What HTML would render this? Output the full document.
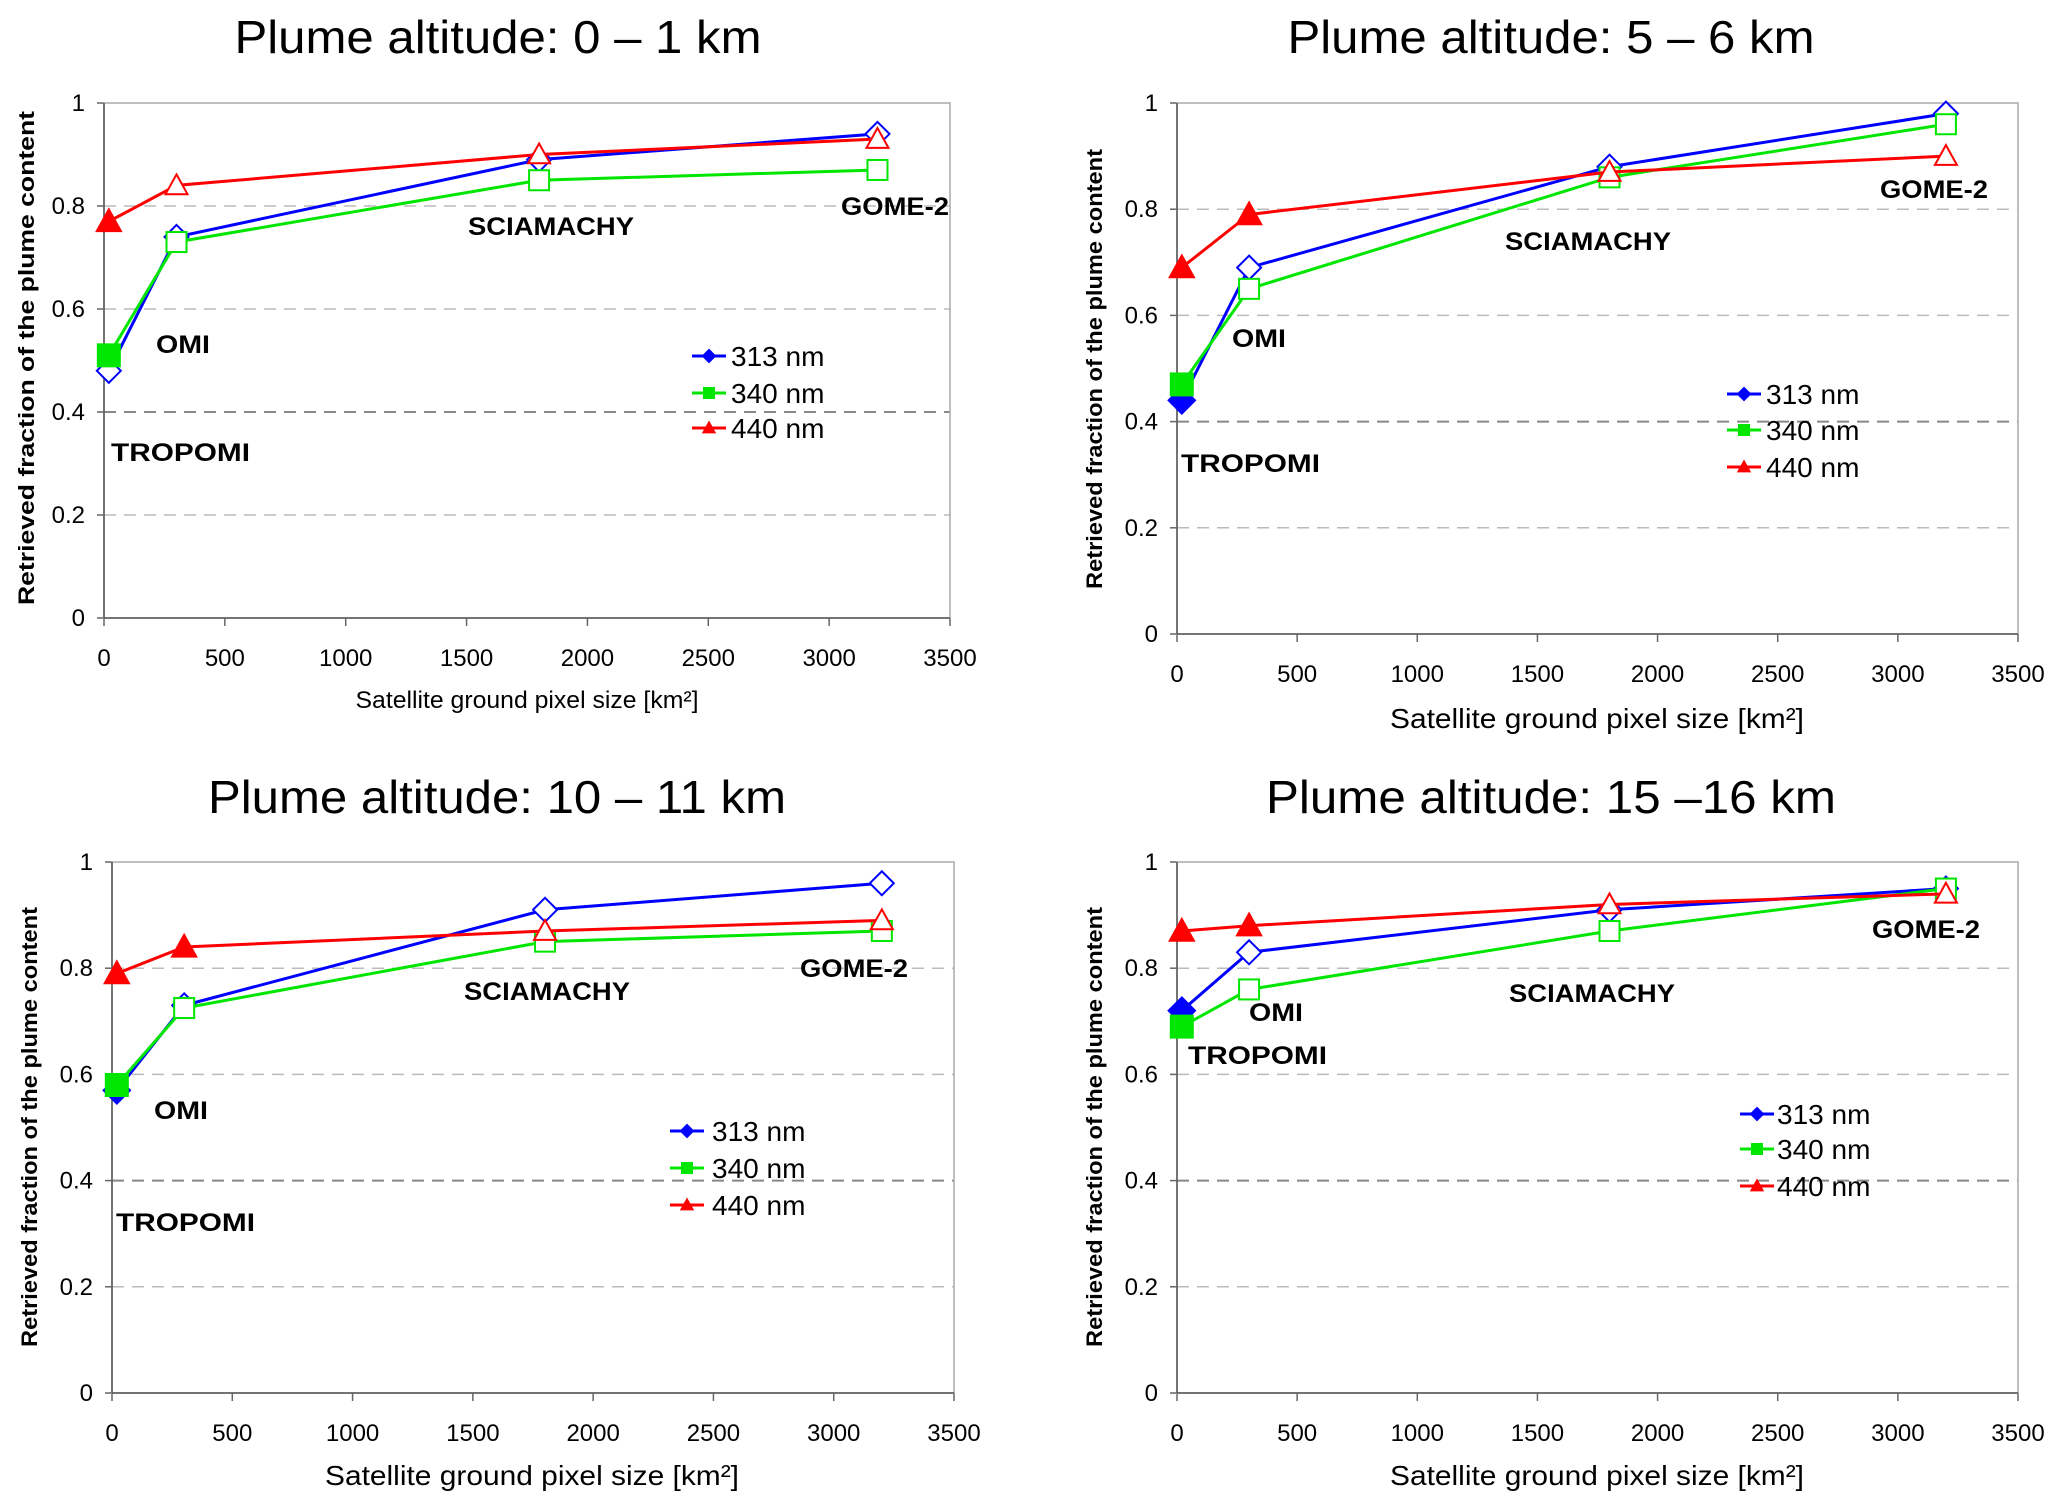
<!DOCTYPE html>
<html><head><meta charset="utf-8"><style>
html,body{margin:0;padding:0;background:#fff;}
svg{display:block;}
text{font-family:"Liberation Sans",Arial,sans-serif;}
</style></head><body>
<svg id="fig" width="2067" height="1512" viewBox="0 0 2067 1512" xmlns="http://www.w3.org/2000/svg"></svg>
<script>
// Shared data
const xValues = [20, 300, 1800, 3200];
const seriesNames = ["313 nm", "340 nm", "440 nm"];
const xTicks = [0, 500, 1000, 1500, 2000, 2500, 3000, 3500];
const yTicks = [0, 0.2, 0.4, 0.6, 0.8, 1];
const yTickLabels = ["0", "0.2", "0.4", "0.6", "0.8", "1"];
const instruments = ["TROPOMI", "OMI", "SCIAMACHY", "GOME-2"];
const titles = ["Plume altitude: 0 \u2013 1 km", "Plume altitude: 5 \u2013 6 km", "Plume altitude: 10 \u2013 11 km", "Plume altitude: 15 \u201316 km"];
// Panel values
const p1_313 = [0.48, 0.74, 0.89, 0.94];
const p1_340 = [0.51, 0.73, 0.85, 0.87];
const p1_440 = [0.77, 0.84, 0.90, 0.93];
const p2_313 = [0.44, 0.69, 0.88, 0.98];
const p2_340 = [0.47, 0.65, 0.86, 0.96];
const p2_440 = [0.69, 0.79, 0.87, 0.90];
const p3_313 = [0.57, 0.73, 0.91, 0.96];
const p3_340 = [0.58, 0.725, 0.85, 0.87];
const p3_440 = [0.79, 0.84, 0.87, 0.89];
const p4_313 = [0.72, 0.83, 0.91, 0.95];
const p4_340 = [0.69, 0.76, 0.87, 0.95];
const p4_440 = [0.87, 0.88, 0.92, 0.94];
// Filled-marker flags
const f1 = [[0,0,0,0],[1,0,0,0],[1,0,0,0]];
const f2 = [[1,0,0,0],[1,0,0,0],[1,1,0,0]];
const f3 = [[1,0,0,0],[1,0,0,0],[1,1,0,0]];
const f4 = [[1,0,0,0],[1,0,0,0],[1,1,0,0]];

const colors = ["#0000ff", "#00e600", "#ff0000"];
const shapes = ["diamond", "square", "triangle"];

const panels = [
 {L:104,R:950,T:103,B:618, title:[498,53], ytitle:[26,358,494], xtitle:[527,708,343], ann:[[111,461],[156,353],[468,235],[841,215]], leg:[692,731,[356,393,428]], data:[p1_313,p1_340,p1_440], fill:f1, name:"panel-0-1km"},
 {L:1177,R:2018,T:103,B:634, title:[1551,53], ytitle:[1094,369,440], xtitle:[1597,728,414], ann:[[1181,472],[1232,347],[1505,250],[1880,198]], leg:[1727,1766,[394,430,467]], data:[p2_313,p2_340,p2_440], fill:f2, name:"panel-5-6km"},
 {L:112,R:954,T:862,B:1393, title:[497,813], ytitle:[29,1127,440], xtitle:[532,1485,414], ann:[[116,1231],[154,1119],[464,1000],[800,977]], leg:[670,712,[1131,1168,1205]], data:[p3_313,p3_340,p3_440], fill:f3, name:"panel-10-11km"},
 {L:1177,R:2018,T:862,B:1393, title:[1551,813], ytitle:[1094,1127,440], xtitle:[1597,1485,414], ann:[[1188,1064],[1249,1021],[1509,1002],[1872,938]], leg:[1740,1777,[1114,1149,1186]], data:[p4_313,p4_340,p4_440], fill:f4, name:"panel-15-16km"}
];

const NS = "http://www.w3.org/2000/svg";
const fig = document.getElementById("fig");
function mk(tag, attrs, parent){
  const e = document.createElementNS(NS, tag);
  for (const k in attrs) e.setAttribute(k, attrs[k]);
  (parent||fig).appendChild(e);
  return e;
}
function marker(g, shape, cx, cy, color, filled, s){
  let e;
  const fillc = filled ? color : "#fff";
  const sw = 2;
  if (shape === "diamond"){
    const h = s*0.6;
    e = mk("polygon", {points:`${cx},${cy-h} ${cx+h},${cy} ${cx},${cy+h} ${cx-h},${cy}`, fill:fillc, stroke:color, "stroke-width":sw}, g);
  } else if (shape === "square"){
    const h = s*0.5;
    e = mk("rect", {x:cx-h, y:cy-h, width:2*h, height:2*h, fill:fillc, stroke:color, "stroke-width":sw}, g);
  } else {
    const h = s*0.55;
    e = mk("polygon", {points:`${cx},${cy-h} ${cx+h},${cy+h*0.8} ${cx-h},${cy+h*0.8}`, fill:fillc, stroke:color, "stroke-width":sw}, g);
  }
  return e;
}

panels.forEach((p, pi) => {
  const g = mk("g", {});
  
  
  const xs = v => p.L + (v/3500)*(p.R-p.L);
  const ys = v => p.B - v*(p.B-p.T);

  // title
  const t = mk("text", {x:p.title[0], y:p.title[1], "text-anchor":"middle", "font-size":46, fill:"#000", textLength: (pi===0?527:(pi===1?527:(pi===2?578:570))), lengthAdjust:"spacingAndGlyphs"}, g);
  t.textContent = titles[pi];
  
  

  // gridlines
  yTicks.forEach((v, i) => {
    if (v > 0 && v < 1){
      const gl = mk("line", {x1:p.L, x2:p.R, y1:ys(v), y2:ys(v), stroke: v===0.4 ? "#888" : "#bbb", "stroke-width": v===0.4 ? 2 : 1.5, "stroke-dasharray":"12 8"}, g);
      
      
    }
    const tk = mk("line", {x1:p.L-7, x2:p.L, y1:ys(v), y2:ys(v), stroke:"#666", "stroke-width":1.5}, g);
    
    
    const tl = mk("text", {x:p.L-19, y:ys(v)+8, "text-anchor":"end", "font-size":24}, g);
    tl.textContent = yTickLabels[i];
    
    
  });
  xTicks.forEach(v => {
    const tk = mk("line", {x1:xs(v), x2:xs(v), y1:p.B, y2:p.B+8, stroke:"#666", "stroke-width":1.5}, g);
    
    
    const tl = mk("text", {x:xs(v), y:p.B+48, "text-anchor":"middle", "font-size":24}, g);
    tl.textContent = String(v);
    
    
  });
  // frame
  const fr = mk("rect", {x:p.L, y:p.T, width:p.R-p.L, height:p.B-p.T, fill:"none", stroke:"#aaa", "stroke-width":1.5}, g);
  
  
  const ax = mk("line", {x1:p.L, x2:p.L, y1:p.T, y2:p.B, stroke:"#555", "stroke-width":1.5}, g);
  
  
  const axx = mk("line", {x1:p.L, x2:p.R, y1:p.B, y2:p.B, stroke:"#555", "stroke-width":1.5}, g);
  
  

  // axis titles
  const yt = mk("text", {x:0, y:0, "text-anchor":"middle", "font-size":22, "font-weight":"bold", transform:`translate(${p.ytitle[0]+8},${p.ytitle[1]}) rotate(-90)`, textLength:p.ytitle[2], lengthAdjust:"spacingAndGlyphs"}, g);
  yt.textContent = "Retrieved fraction of the plume content";
  
  
  const xt = mk("text", {x:p.xtitle[0], y:p.xtitle[1], "text-anchor":"middle", "font-size": pi===0?24:28, textLength:p.xtitle[2], lengthAdjust:"spacingAndGlyphs"}, g);
  xt.textContent = "Satellite ground pixel size [km\u00b2]";
  
  

  // instrument annotations
  const annW = [139, 54, 166, 108];
  instruments.forEach((name, i) => {
    const a = mk("text", {x:p.ann[i][0], y:p.ann[i][1], "font-size":25, "font-weight":"bold", textLength:annW[i], lengthAdjust:"spacingAndGlyphs"}, g);
    a.textContent = name;
    
    
  });

  // series
  p.data.forEach((vals, si) => {
    const sg = mk("g", {}, g);
    
    
    const pts = vals.map((v, i) => `${xs(xValues[i])},${ys(v)}`).join(" ");
    const ln = mk("polyline", {points:pts, fill:"none", stroke:colors[si], "stroke-width":3}, sg);
    
    
    vals.forEach((v, i) => {
      const filled = p.fill[si][i] === 1;
      const m = marker(sg, shapes[si], xs(xValues[i]), ys(v), colors[si], filled, filled ? 22 : 20);
      
      
    });
  });

  // legend
  const lg = mk("g", {}, g);
  
  
  seriesNames.forEach((n, si) => {
    const y = p.leg[2][si];
    const x0 = p.leg[0];
    const e = mk("g", {}, lg);
    
    
    mk("line", {x1:x0, x2:x0+34, y1:y, y2:y, stroke:colors[si], "stroke-width":3}, e);
    marker(e, shapes[si], x0+17, y, colors[si], true, 10);
    const tx = mk("text", {x:p.leg[1], y:y+10, "font-size":28}, e);
    tx.textContent = n;
  });
});
</script>
</body></html>
